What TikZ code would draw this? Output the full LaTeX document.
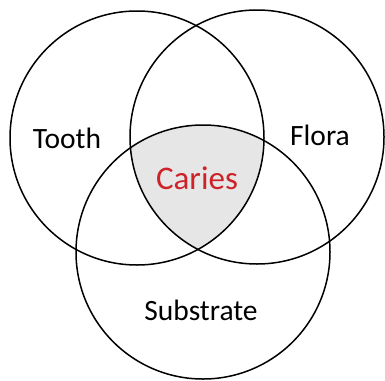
\documentclass[tikz,border=0pt]{standalone}
\usepackage{fontspec}
\setmainfont{Carlito}
\usetikzlibrary{positioning}
\definecolor{CariesRed}{RGB}{205,35,40}
\definecolor{CoreGray}{RGB}{230,230,230}

\begin{document}
\begin{tikzpicture}[x=1pt, y=-1pt,
          set/.style={circle, draw=black, line width=1.5pt,
                      minimum size=254pt, inner sep=0pt},
          lbl/.style={font=\fontsize{29.5}{33}\selectfont, text=black}
        ]
        \useasboundingbox (0,0) rectangle (385,380);

        % Shared core
        \begin{scope}
          \clip (137,138) circle[radius=127pt];
          \clip (257,137) circle[radius=127pt];
          \fill[CoreGray] (203,252) circle[radius=127pt];
        \end{scope}

        % Sets
        \node[set] (tooth) at (137,138) {};
        \node[set] (flora) at (257,137) {};
        \node[set] (subs)  at (203,252) {};

        % Labels
        \node[lbl] (toothlbl) at (67,138)  {Tooth};
        \node[lbl] (floralbl) at (320,135) {Flora};
        \node[lbl] (subslbl)  at (201,310) {Substrate};
        \node[lbl, text=CariesRed, font=\fontsize{33}{36}\selectfont]
              (caries) at (197,178) {Caries};
      \end{tikzpicture}
\end{document}
